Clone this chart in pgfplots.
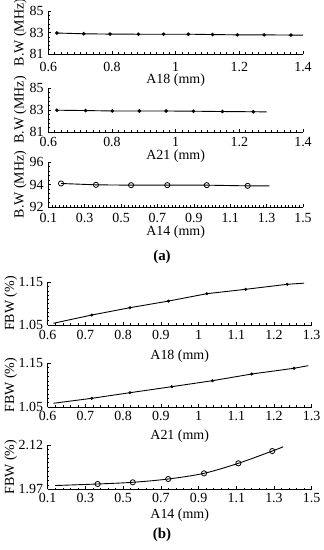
\documentclass[border=0pt]{standalone}
\usepackage{pgfplots}
\pgfplotsset{compat=1.18}
\usepackage{fontspec}
\setmainfont{Liberation Serif}
\begin{document}
\fontsize{14}{16}\selectfont
\begin{tikzpicture}
\path[use as bounding box] (0,0) rectangle (324bp,550bp);
\pgfplotsset{
  panel/.style 2 args={
    scale only axis,
    axis x line=bottom, axis y line=left,
    axis line style={-, black, line width=0.8pt},
    tick align=inside,
    major tick length=3pt, minor tick length=1.6pt,
    every tick/.style={black, line width=0.6pt},
    every minor tick/.style={black, line width=0.5pt},
    /pgf/number format/assume math mode=true,
    ticklabel style={font=\fontsize{14}{16}\selectfont},
    label style={font=\fontsize{14}{16}\selectfont},
    xticklabel style={inner sep=0pt, anchor=north, yshift=-#1bp},
    yticklabel style={inner sep=0pt, anchor=east, xshift=-4.5bp},
    xlabel style={inner sep=0pt, at={(axis description cs:0.5,0)}, anchor=north, yshift=-#2bp},
    clip=false,
  },
  yl/.style={ylabel style={inner sep=0pt, at={(axis description cs:#1,0.5)}, anchor=center}},
  dl/.style={black, line width=0.9pt},
  fm/.style={mark=*, mark size=1.3pt, mark options={fill=black}},
  om/.style={mark=o, mark size=2.6pt, mark options={fill=white, line width=0.8pt}},
}
% Panel 1
\begin{axis}[panel={8}{20}, yl=-0.11, at={(48.3bp,496bp)}, anchor=south west, width=254.7bp, height=43bp,
  xmin=0.6, xmax=1.4, ymin=81, ymax=85,
  xtick={0.6,0.8,1,1.2,1.4}, xticklabels={0.6,0.8,1,1.2,1.4}, minor x tick num=9,
  ytick={81,83,85}, minor y tick num=4,
  xlabel={A18 (mm)}, ylabel={B.W (MHz)}]
\addplot[dl, fm] coordinates {(0.627,82.95)(0.711,82.88)(0.794,82.85)(0.883,82.84)(0.962,82.84)(1.040,82.84)(1.116,82.81)(1.194,82.78)(1.278,82.78)(1.362,82.76)};
\addplot[dl] coordinates {(1.362,82.76)(1.40,82.75)};
\end{axis}
% Panel 2
\begin{axis}[panel={5}{18}, yl=-0.11, at={(48.3bp,418bp)}, anchor=south west, width=254.7bp, height=44bp,
  xmin=0.6, xmax=1.4, ymin=81, ymax=85,
  xtick={0.6,0.8,1,1.2,1.4}, xticklabels={0.6,0.8,1,1.2,1.4}, minor x tick num=9,
  ytick={81,83,85}, minor y tick num=4,
  xlabel={A21 (mm)}, ylabel={B.W (MHz)}]
\addplot[dl, fm] coordinates {(0.627,82.98)(0.717,82.95)(0.801,82.91)(0.886,82.91)(0.970,82.91)(1.056,82.89)(1.147,82.86)(1.244,82.84)};
\addplot[dl] coordinates {(1.244,82.84)(1.286,82.83)};
\end{axis}
% Panel 3
\begin{axis}[panel={6}{19}, yl=-0.11, at={(48.3bp,343bp)}, anchor=south west, width=254.7bp, height=45bp,
  xmin=0.1, xmax=1.5, ymin=92, ymax=96,
  xtick={0.1,0.3,0.5,0.7,0.9,1.1,1.3,1.5}, xticklabels={0.1,0.3,0.5,0.7,0.9,1.1,1.3,1.5}, minor x tick num=9,
  ytick={92,94,96}, minor y tick num=4,
  xlabel={A14 (mm)}, ylabel={B.W (MHz)}]
\addplot[dl] coordinates {(0.170,94.09)(0.362,93.97)(0.555,93.94)(0.754,93.94)(0.971,93.94)(1.196,93.88)(1.315,93.88)};
\addplot[om, only marks] coordinates {(0.170,94.09)(0.362,93.97)(0.555,93.94)(0.754,93.94)(0.971,93.94)(1.196,93.88)};
\end{axis}
\node[font=\fontsize{15}{17}\selectfont\bfseries] at (162bp,293bp) {(a)};
% Panel 4
\begin{axis}[panel={5}{25}, yl=-0.14, at={(47.7bp,225bp)}, anchor=south west, width=264bp, height=42.7bp,
  xmin=0.6, xmax=1.3, ymin=1.05, ymax=1.15,
  xtick={0.6,0.7,...,1.31}, xticklabels={0.6,0.7,0.8,0.9,1,1.1,1.2,1.3}, minor x tick num=4,
  ytick={1.05,1.15}, yticklabels={1.05,1.15}, minor y tick num=9,
  xlabel={A18 (mm)}, ylabel={FBW (\%)}]
\addplot[dl] coordinates {(0.615,1.054)(0.717,1.0734)(0.818,1.0905)(0.920,1.106)(1.022,1.1233)(1.125,1.1336)(1.235,1.1453)(1.28,1.148)};
\addplot[fm, only marks] coordinates {(0.717,1.0734)(0.818,1.0905)(0.920,1.106)(1.022,1.1233)(1.125,1.1336)(1.235,1.1453)};
\end{axis}
% Panel 5
\begin{axis}[panel={4.5}{23}, yl=-0.14, at={(47.7bp,143bp)}, anchor=south west, width=264bp, height=43.7bp,
  xmin=0.6, xmax=1.3, ymin=1.05, ymax=1.15,
  xtick={0.6,0.7,...,1.31}, xticklabels={0.6,0.7,0.8,0.9,1,1.1,1.2,1.3}, minor x tick num=4,
  ytick={1.05,1.15}, yticklabels={1.05,1.15}, minor y tick num=9,
  xlabel={A21 (mm)}, ylabel={FBW (\%)}]
\addplot[dl] coordinates {(0.615,1.0585)(0.717,1.0699)(0.818,1.0827)(0.929,1.0965)(1.037,1.1102)(1.141,1.1255)(1.253,1.1386)(1.291,1.1446)};
\addplot[fm, only marks] coordinates {(0.717,1.0699)(0.818,1.0827)(0.929,1.0965)(1.037,1.1102)(1.141,1.1255)(1.253,1.1386)};
\end{axis}
% Panel 6
\begin{axis}[panel={4}{19}, yl=-0.14, at={(47.7bp,60.7bp)}, anchor=south west, width=264bp, height=44.3bp,
  xmin=0.1, xmax=1.5, ymin=1.97, ymax=2.12,
  xtick={0.1,0.3,0.5,0.7,0.9,1.1,1.3,1.5}, xticklabels={0.1,0.3,0.5,0.7,0.9,1.1,1.3,1.5}, minor x tick num=4,
  ytick={1.97,2.12}, yticklabels={1.97,2.12}, minor y tick num=9,
  xlabel={A14 (mm)}, ylabel={FBW (\%)}]
\addplot[dl, smooth] coordinates {(0.139,1.9827)(0.365,1.988)(0.551,1.9937)(0.739,2.0048)(0.929,2.0241)(1.111,2.058)(1.291,2.0996)(1.349,2.114)};
\addplot[om, only marks] coordinates {(0.365,1.988)(0.551,1.9937)(0.739,2.0048)(0.929,2.0241)(1.111,2.058)(1.291,2.0996)};
\end{axis}
\node[font=\fontsize{15}{17}\selectfont\bfseries] at (162bp,15bp) {(b)};
\end{tikzpicture}
\end{document}
